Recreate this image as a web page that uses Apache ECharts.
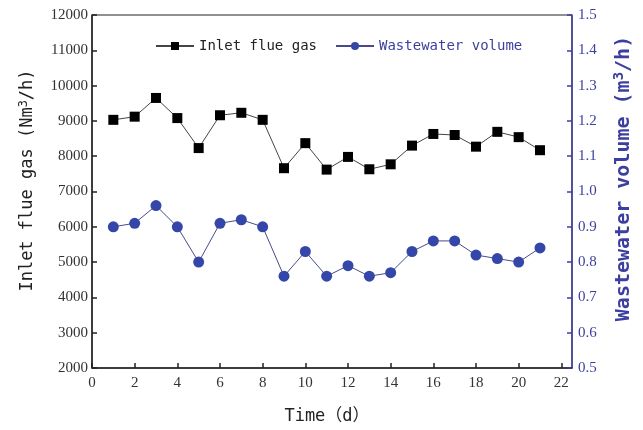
<!DOCTYPE html>
<html>
<head>
<meta charset="utf-8">
<script src="https://cdn.jsdelivr.net/npm/echarts@6/dist/echarts.min.js"></script>
<style>
  html, body { margin: 0; padding: 0; background: #fff; }
  #chart { width: 643px; height: 430px; }
</style>
</head>
<body>
<div id="chart"></div>
<script>
const days = [1, 2, 3, 4, 5, 6, 7, 8, 9, 10, 11, 12, 13, 14, 15, 16, 17, 18, 19, 20, 21];
const inletFlueGas = [9030, 9120, 9650, 9080, 8230, 9160, 9230, 9030, 7660, 8370, 7620,
  7980, 7630, 7770, 8300, 8630, 8600, 8270, 8690, 8540, 8170];
const wastewaterVolume = [0.90, 0.91, 0.96, 0.90, 0.80, 0.91, 0.92, 0.90, 0.76, 0.83, 0.76,
  0.79, 0.76, 0.77, 0.83, 0.86, 0.86, 0.82, 0.81, 0.80, 0.84];

const blue = "#3d3f9e";
const serif = "Liberation Serif";
const mono = "DejaVu Sans Mono, Noto Sans CJK SC";

const chart = echarts.init(document.getElementById("chart"));
chart.setOption({
  animation: false,
  grid: {
    left: 92, right: 71, top: 15, bottom: 60,
    show: true, borderColor: "#222", borderWidth: 1
  },
  legend: {
    top: 34,
    left: 150,
    itemWidth: 38,
    itemHeight: 10,
    itemGap: 18,
    textStyle: { fontFamily: mono, fontSize: 14 },
    data: [
      { name: "Inlet flue gas", textStyle: { color: "#222" } },
      { name: "Wastewater volume", textStyle: { color: blue } }
    ]
  },
  xAxis: {
    type: "value",
    min: 0, max: 22.5, interval: 2,
    name: "Time（d）",
    nameLocation: "middle",
    nameGap: 40,
    nameTextStyle: { fontFamily: mono, fontSize: 17, color: "#222", padding: [0, 10, 0, 0] },
    axisLine: { lineStyle: { color: "#222", width: 1.5 } },
    axisTick: { inside: true, length: 5, lineStyle: { color: "#222", width: 1.5 } },
    axisLabel: {
      showMaxLabel: false,
      fontFamily: serif, fontSize: 15, color: "#333",
      formatter: v => (Number.isInteger(v) ? String(v) : "")
    },
    splitLine: { show: false }
  },
  yAxis: [
    {
      type: "value",
      min: 2000, max: 12000, interval: 1000,
      name: "Inlet flue gas (Nm{sup|3}/h)",
      nameLocation: "middle",
      nameRotate: 90,
      nameGap: 54,
      nameTextStyle: {
        fontFamily: mono, fontSize: 17, color: "#222", padding: [0, 0, 0, 22],
        rich: { sup: { fontFamily: mono, fontSize: 12, color: "#222", verticalAlign: "top", padding: [0, 0, 8, 0] } }
      },
      axisLine: { show: true, lineStyle: { color: "#222", width: 1.5 } },
      axisTick: { inside: true, length: 5, lineStyle: { color: "#222", width: 1.5 } },
      axisLabel: { fontFamily: serif, fontSize: 15, color: "#333", margin: 4, formatter: v => String(v) },
      splitLine: { show: false }
    },
    {
      type: "value",
      position: "right",
      min: 0.5, max: 1.5, interval: 0.1,
      name: "Wastewater volume (m{sup|3}/h)",
      nameLocation: "middle",
      nameRotate: 90,
      nameGap: 40,
      nameTextStyle: {
        fontFamily: mono, fontSize: 20, color: blue, fontWeight: "bold", padding: [0, 0, 0, 26],
        rich: { sup: { fontFamily: mono, fontSize: 14, color: blue, fontWeight: "bold", verticalAlign: "top", padding: [0, 0, 9, 0] } }
      },
      axisLine: { show: true, lineStyle: { color: blue, width: 1.5 } },
      axisTick: { inside: true, length: 5, lineStyle: { color: blue, width: 1.5 } },
      axisLabel: {
        fontFamily: serif, fontSize: 15, color: blue, margin: 6,
        formatter: v => v.toFixed(1)
      },
      splitLine: { show: false }
    }
  ],
  series: [
    {
      name: "Inlet flue gas",
      type: "line",
      yAxisIndex: 0,
      data: days.map((d, i) => [d, inletFlueGas[i]]),
      symbol: "rect",
      symbolSize: 10,
      itemStyle: { color: "#000" },
      lineStyle: { color: "#444", width: 1 }
    },
    {
      name: "Wastewater volume",
      type: "line",
      yAxisIndex: 1,
      data: days.map((d, i) => [d, wastewaterVolume[i]]),
      symbol: "circle",
      symbolSize: 11,
      itemStyle: { color: "#3447a8" },
      lineStyle: { color: "#4a4a8a", width: 1 }
    }
  ]
});
</script>
</body>
</html>
